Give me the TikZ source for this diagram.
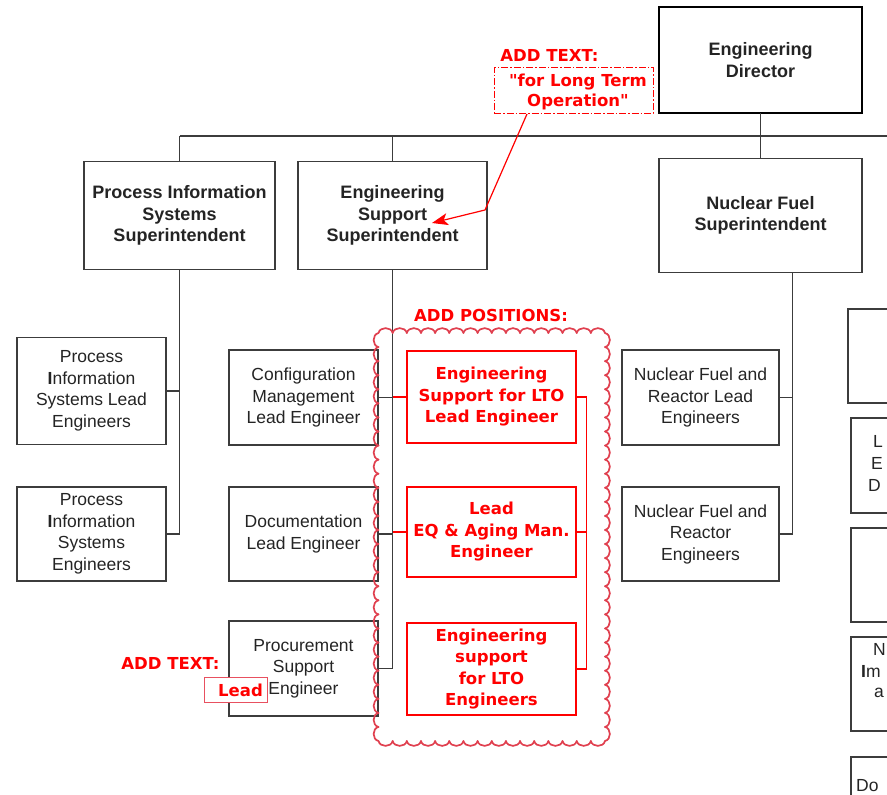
\documentclass[tikz,border=0pt]{standalone}
\usepackage{fontspec}
\setmainfont{Liberation Sans}
\newfontfamily\redfont{DejaVu Sans}
\usetikzlibrary{arrows.meta}
\definecolor{ln}{HTML}{3C3C3C}
\definecolor{txt}{HTML}{242424}
\definecolor{rd}{HTML}{FF0000}
\definecolor{cloudc}{HTML}{E0404F}
\definecolor{leadc}{HTML}{E85060}
\tikzset{
  bx/.style={draw=ln, line width=1.1pt, inner sep=0pt, outer sep=0pt, align=center, text=txt, font=\fontsize{17.5}{21.5}\selectfont},
  bbx/.style={bx, font=\fontsize{18}{21.5}\selectfont\bfseries},
  rbx/.style={draw=rd, line width=1.1pt, inner sep=0pt, outer sep=0pt, align=center, text=rd, font=\redfont\bfseries\fontsize{16.5}{21.5}\selectfont},
  rtxt/.style={inner sep=0pt, align=center, text=rd, font=\redfont\bfseries\fontsize{16.5}{20.5}\selectfont},
  ptxt/.style={inner sep=0pt, anchor=west, text=txt, font=\fontsize{17.5}{21}\selectfont},
  conn/.style={draw=ln, line width=1.1pt},
  rconn/.style={draw=rd, line width=1.1pt},
  scallop/.style={draw=cloudc, line width=1.7pt, line cap=round},
}
\begin{document}
\begin{tikzpicture}[x=1pt,y=-1pt]
\useasboundingbox (0,0) rectangle (887,795);
\clip (0,0) rectangle (887,795);
% top level
\node[bbx, line width=2.2pt, draw=black, minimum width=203pt, minimum height=106pt] (dir) at (760.5,60) {Engineering\\Director};
\node[bbx, minimum width=191pt, minimum height=108pt] (pis) at (179.5,215.5) {Process Information\\Systems\\Superintendent};
\node[bbx, minimum width=189pt, minimum height=108pt] (ess) at (392.5,215.5) {Engineering\\Support\\Superintendent};
\node[bbx, minimum width=203pt, minimum height=114pt] (nfs) at (760.5,215.5) {Nuclear Fuel\\Superintendent};
\coordinate (busL) at (179.5,136);
\coordinate (busE) at (392.5,136);
\coordinate (busR) at (887,136);
\draw[conn] (busL) -- (busR);
\draw[conn] (busL) -- (pis.north);
\draw[conn] (busE) -- (ess.north);
\draw[conn] (dir.south) -- (nfs.north);
% process information
\node[bx, minimum width=149pt, minimum height=107pt] (pil) at (91.5,391) {Process\\{\bfseries I}nformation\\Systems Lead\\Engineers};
\node[bx, minimum width=149pt, minimum height=94pt] (pie) at (91.5,534) {Process\\{\bfseries I}nformation\\Systems\\Engineers};
\draw[conn] (pis.south) |- (pie.east);
\draw[conn] (pil.east) -| (pis.south);
% engineering support
\node[bx, minimum width=149pt, minimum height=95pt] (cfg) at (303.5,397.5) {Configuration\\Management\\Lead Engineer};
\node[bx, minimum width=149pt, minimum height=94pt] (doc) at (303.5,534) {Documentation\\Lead Engineer};
\node[bx, minimum width=149pt, minimum height=95pt] (prc) at (303.5,668.5) {Procurement\\Support\\Engineer};
\draw[conn] (ess.south) |- (prc.east);
\draw[conn] (cfg.east) -- (cfg.east -| ess.south);
\draw[conn] (doc.east) -- (doc.east -| ess.south);
% red positions
\node[rbx, minimum width=169pt, minimum height=92pt] (r1) at (491.5,397) {Engineering\\Support for LTO\\Lead Engineer};
\node[rbx, minimum width=169pt, minimum height=90pt] (r2) at (491.5,532) {Lead\\EQ \& Aging Man.\\Engineer};
\node[rbx, minimum width=169pt, minimum height=92pt] (r3) at (491.5,669) {Engineering\\support\\for LTO\\Engineers};
\draw[rconn] (r1.west -| ess.south) -- (r1.west);
\draw[rconn] (r2.west -| ess.south) -- (r2.west);
\coordinate (rv) at (586.5,0);
\draw[rconn] (r1.east) -| (rv |- r3.east) -- (r3.east);
\draw[rconn] (r2.east) -- (r2.east -| rv);
% nuclear fuel
\node[bx, minimum width=157pt, minimum height=95pt] (nfl) at (700.5,397.5) {Nuclear Fuel and\\Reactor Lead\\Engineers};
\node[bx, minimum width=157pt, minimum height=94pt] (nfe) at (700.5,534) {Nuclear Fuel and\\Reactor\\Engineers};
\coordinate (nftop) at (792.5,272);
\draw[conn] (nftop) |- (nfe.east);
\draw[conn] (nfl.east) -| (nftop);
% cut-off boxes at right
\node[bx, minimum width=152pt, minimum height=94pt] (k1) at (924,356) {};
\node[bx, minimum width=152pt, minimum height=95pt] (k2) at (927,465.5) {};
\node[bx, minimum width=152pt, minimum height=94pt] (k3) at (927,575) {};
\node[bx, minimum width=152pt, minimum height=94pt] (k4) at (927,684) {};
\node[bx, minimum width=152pt, minimum height=94pt] (k5) at (927,804) {};
\node[ptxt] (k2a) at (873,441) {L};
\node[ptxt] (k2b) at (871,463) {E};
\node[ptxt] (k2c) at (868,485) {D};
\node[ptxt] (k4a) at (873,649) {N};
\node[ptxt] (k4b) at (861,671) {{\bfseries I}m};
\node[ptxt] (k4c) at (874,693) {a};
\node[ptxt] (k5a) at (856,786) {Do};
% cloud (scalloped border)
\pgfmathsetmacro{\cxa}{378.5}
\pgfmathsetmacro{\cxb}{605}
\pgfmathsetmacro{\cya}{333}
\pgfmathsetmacro{\cyb}{741}
\pgfmathsetmacro{\cw}{(\cxb-\cxa)/16}
\pgfmathsetmacro{\ch}{(\cyb-\cya)/29}
\foreach \i in {0,...,15} {
  \draw[scallop] ({\cxa+\i*\cw},\cya) .. controls +(1.5,-6.5) and +(-1.5,-6.5) .. ({\cxa+(\i+1)*\cw},\cya);
  \draw[scallop] ({\cxa+\i*\cw},\cyb) .. controls +(1.5,6.5) and +(-1.5,6.5) .. ({\cxa+(\i+1)*\cw},\cyb);
}
\foreach \i in {0,...,28} {
  \draw[scallop] (\cxa,{\cya+\i*\ch}) .. controls +(-6.5,1.5) and +(-6.5,-1.5) .. (\cxa,{\cya+(\i+1)*\ch});
  \draw[scallop] (\cxb,{\cya+\i*\ch}) .. controls +(6.5,1.5) and +(6.5,-1.5) .. (\cxb,{\cya+(\i+1)*\ch});
}
\node[rtxt] (addpos) at (491,315) {ADD POSITIONS:};
% top callout
\node[rtxt] (addt1) at (549.5,55) {ADD TEXT:};
\node[draw=rd, line width=0.9pt, dash pattern=on 7pt off 2pt on 1.5pt off 2pt, minimum width=159pt, minimum height=46pt, inner sep=0pt] (callout) at (573.5,90) {};
\node[rtxt] (callt) at (578,92) {"for Long Term\\Operation"};
\coordinate (cs) at (527,114);
\coordinate (cb) at (485,210);
\coordinate (ct) at (432,223);
\draw[rd, line width=1.2pt, -{Stealth[length=16pt, width=12pt, inset=4pt]}] (cs) -- (cb) -- (ct);
% bottom-left callout
\node[rtxt] (addt2) at (170.5,663) {ADD TEXT:};
\node[draw=leadc, line width=1pt, fill=white, minimum width=63pt, minimum height=25pt, inner sep=0pt] (leadbox) at (235.5,689.5) {};
\node[rtxt] (leadt) at (240.5,690) {Lead};
\end{tikzpicture}
\end{document}
